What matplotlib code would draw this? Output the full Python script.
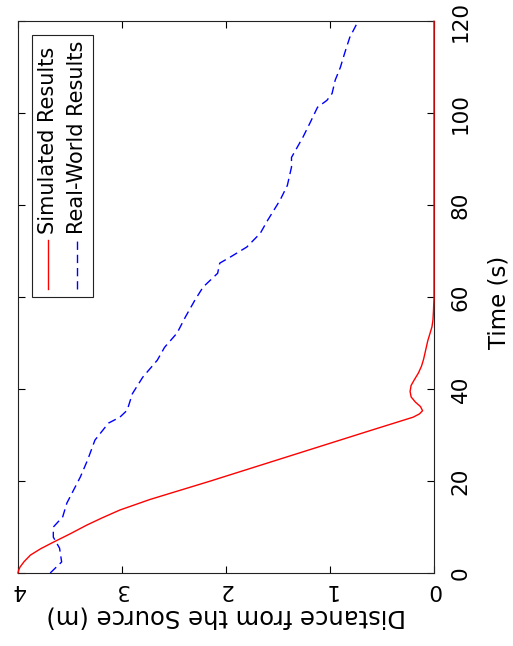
import matplotlib
matplotlib.use("Agg")
from matplotlib import pyplot as plt
from matplotlib.patches import Rectangle
from matplotlib.lines import Line2D

# simulated results (time in s, distance in m)
sim_time = [0, 0.5, 1.3, 2.5, 3.9, 5.3, 6.7, 8.5, 10.4, 12, 13.7, 16, 18, 20, 22,
            25, 28, 31, 33.9, 34.6, 35.3, 36.2, 37.2, 38.3, 39.5, 40.8, 42, 43.5,
            45, 46.5, 48.5, 50.5, 52, 53.5, 55, 57, 60, 120]
sim_dist = [4.0, 3.995, 3.98, 3.94, 3.88, 3.78, 3.66, 3.50, 3.34, 3.19, 3.02, 2.73,
            2.44, 2.15, 1.87, 1.45, 1.03, 0.61, 0.20, 0.14, 0.11, 0.13, 0.18, 0.22,
            0.23, 0.22, 0.19, 0.15, 0.12, 0.10, 0.08, 0.06, 0.04, 0.02, 0.01, 0.005,
            0.0, 0.0]

# real-world results
real_time = [0, 2.4, 5.4, 7.8, 10, 12.2, 15.2, 18.7, 20.9, 24.6, 28.9, 32.6, 33.9,
             35.4, 39, 42.6, 46.3, 49.1, 52.2, 55.7, 59.3, 62.2, 65.2, 67.4, 68.7,
             70.9, 73.9, 76.7, 81.1, 84.3, 88.3, 90.4, 94.8, 98, 101.3, 102.8, 104.3,
             107.2, 110, 113, 116.5, 120]
real_dist = [3.69, 3.58, 3.60, 3.66, 3.66, 3.57, 3.53, 3.45, 3.40, 3.33, 3.26, 3.13,
             3.02, 2.95, 2.90, 2.80, 2.66, 2.59, 2.47, 2.39, 2.30, 2.22, 2.08, 2.06,
             1.96, 1.80, 1.67, 1.60, 1.48, 1.41, 1.37, 1.37, 1.26, 1.19, 1.12, 1.03,
             0.98, 0.95, 0.90, 0.86, 0.81, 0.73]

dist_ticks = [0, 1, 2, 3, 4]
time_ticks = [0, 20, 40, 60, 80, 100, 120]

labels = ["Simulated Results", "Real-World Results"]

dash = (0, (6, 3.5))


def main():
  fig = plt.figure(figsize=(5.13, 6.46), dpi=100)
  ax = fig.add_axes([0.035, 0.113, 0.811, 0.854])

  # the whole figure is turned a quarter turn: time runs up, distance runs right-to-left
  ax.plot(real_dist, real_time, color="blue", lw=1.0, linestyle=dash)
  ax.plot(sim_dist, sim_time, color="red", lw=1.0, clip_on=False, zorder=5)

  ax.set_xlim(4, 0)
  ax.set_ylim(0, 120)
  ax.set_xticks(dist_ticks)
  ax.set_yticks(time_ticks)
  ax.tick_params(direction="in", length=5, width=0.8, top=True, right=True,
                 left=True, bottom=True, labelleft=False, labelright=True,
                 labelsize=15.5)
  ax.tick_params(axis="x", pad=5)
  ax.tick_params(axis="y", pad=12)
  for lab in ax.get_xticklabels():
    lab.set_rotation(180)
  for lab in ax.get_yticklabels():
    lab.set_rotation(90)
    lab.set_va("center")

  ax.set_xlabel("Distance from the Source (m)", fontsize=17.5, rotation=180, labelpad=3)
  ax.yaxis.set_label_position("right")
  ax.set_ylabel("Time (s)", fontsize=16.5, rotation=90)
  ax.yaxis.set_label_coords(1.128, 0.49)
  for s in ax.spines.values():
    s.set_linewidth(0.8)
    s.set_color("#222222")

  # legend drawn by hand, turned like the rest
  ax.add_patch(Rectangle((0.034, 0.50), 0.146, 0.476, transform=ax.transAxes,
                         fill=True, facecolor="white", edgecolor="#222222",
                         lw=0.8, zorder=6))
  ax.add_line(Line2D([0.072, 0.072], [0.514, 0.603], transform=ax.transAxes,
                     color="red", lw=1.0, zorder=7))
  ax.add_line(Line2D([0.142, 0.142], [0.514, 0.603], transform=ax.transAxes,
                     color="blue", lw=1.0, linestyle=dash, zorder=7))
  ax.text(0.072, 0.615, labels[0], transform=ax.transAxes, rotation=90,
          ha="center", va="bottom", fontsize=15, zorder=7)
  ax.text(0.142, 0.615, labels[1], transform=ax.transAxes, rotation=90,
          ha="center", va="bottom", fontsize=15, zorder=7)

  fig.savefig("out.png", dpi=100, facecolor="white")


if __name__ == '__main__':
  main()
